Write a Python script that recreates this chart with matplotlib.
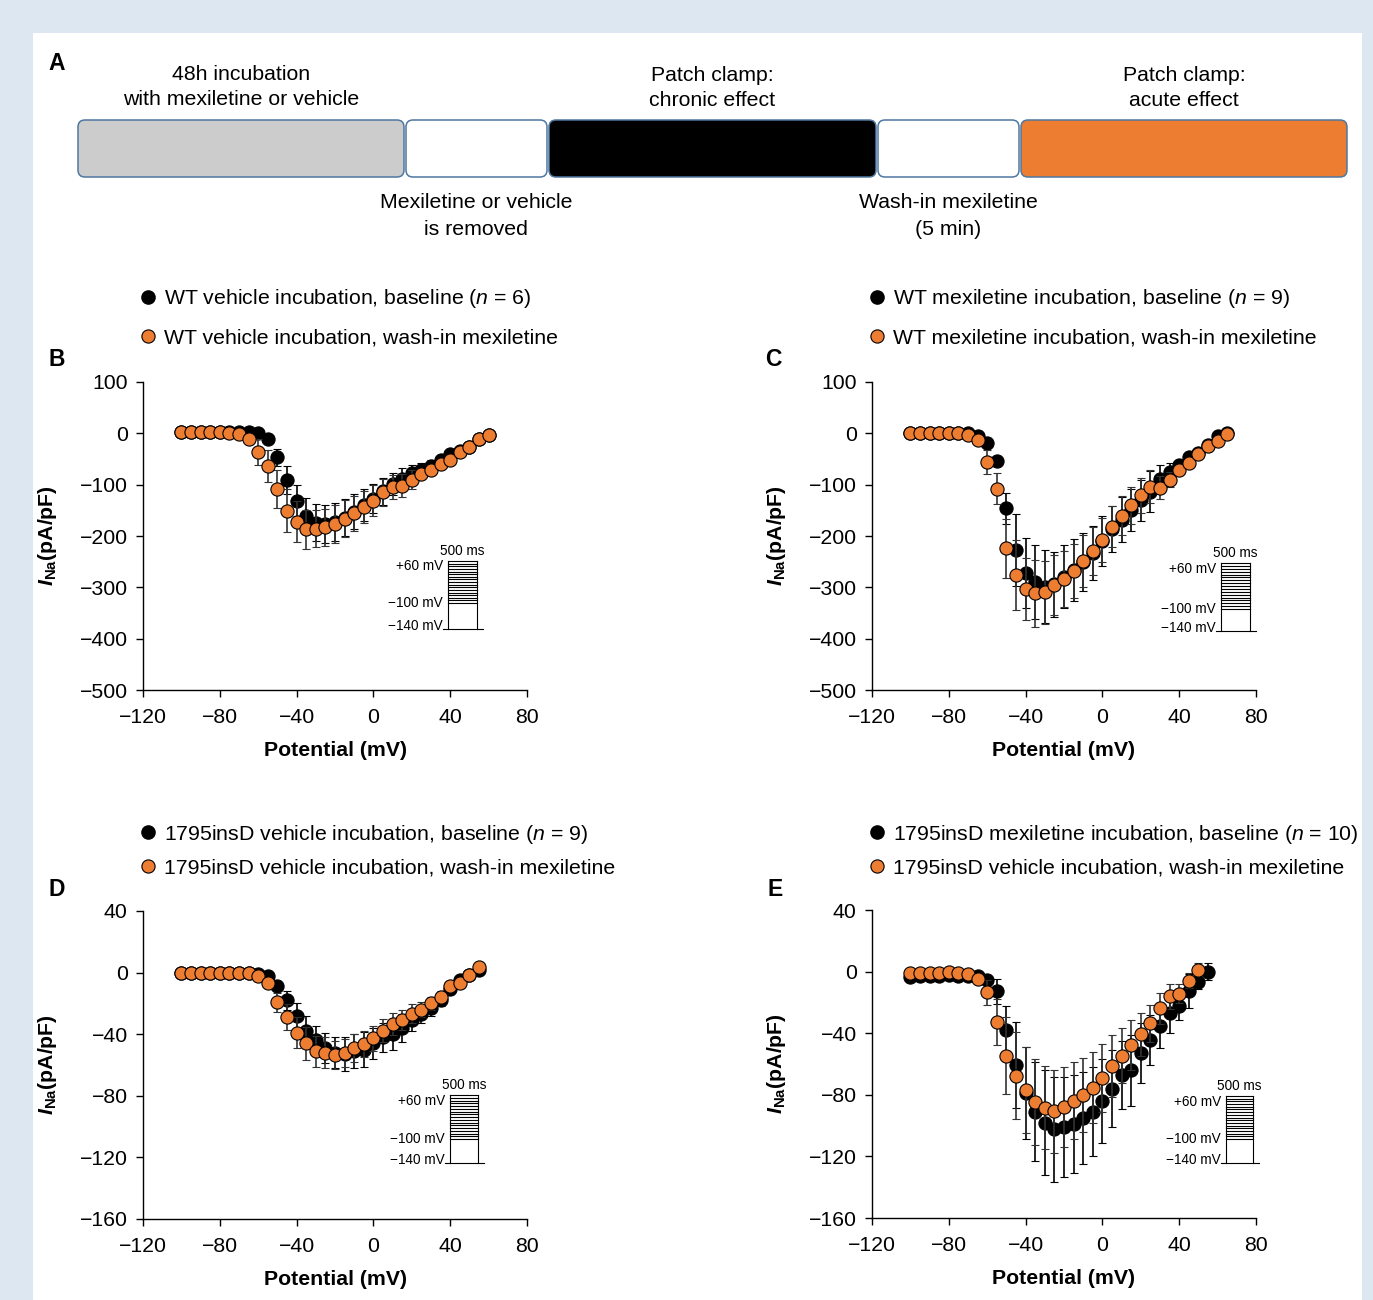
import numpy as np
import matplotlib.pyplot as plt
from matplotlib.lines import Line2D
from matplotlib.patches import FancyBboxPatch, Rectangle

plt.rcParams['font.family'] = ['Liberation Sans', 'DejaVu Sans']
plt.rcParams['mathtext.fontset'] = 'custom'
plt.rcParams['mathtext.rm'] = 'Liberation Sans'
plt.rcParams['mathtext.it'] = 'Liberation Sans:italic'
plt.rcParams['mathtext.bf'] = 'Liberation Sans:bold'
plt.rcParams['mathtext.bfit'] = 'Liberation Sans:italic:bold'

ORANGE = '#ED7D31'

# ---- data ----
# B: WT vehicle incubation
v_B = np.arange(-100, 61, 5)
B_base = [2, 2, 2, 2, 2, 3, 3, 3, 0, -11, -47, -91, -131, -161, -174, -177, -172,
          -164, -153, -140, -127, -113, -99, -88, -78, -72, -64, -52, -40, -34, -26, -12, -4]
B_base_err = [0, 0, 0, 0, 0, 1, 1, 2, 3, 5, 17, 28, 30, 35, 36, 37, 37, 36, 34, 31,
              29, 26, 22, 20, 17, 14, 12, 9, 8, 6, 5, 4, 4]
B_mex = [2, 2, 2, 2, 2, 1, -1, -12, -37, -64, -109, -151, -172, -187, -186, -183, -177,
         -166, -156, -143, -131, -115, -105, -102, -90, -79, -71, -60, -51, -36, -27, -12, -4]
B_mex_err = [0, 0, 0, 0, 0, 1, 2, 6, 25, 31, 37, 42, 40, 38, 36, 36, 37, 36, 34, 31,
             31, 26, 23, 22, 19, 10, 10, 9, 7, 5, 4, 4, 4]

# C: WT mexiletine incubation
v_C = np.arange(-100, 66, 5)
C_base = [1, 1, 1, 1, 1, 1, 0, -5, -19, -53, -146, -228, -272, -290, -299, -294, -279,
          -266, -251, -233, -210, -187, -168, -149, -130, -114, -89, -75, -62, -47, -38, -23, -6, 0]
C_base_err = [0, 0, 0, 0, 0, 0, 0, 3, 5, 8, 30, 70, 68, 72, 71, 63, 62, 60, 57, 53,
              49, 45, 44, 41, 40, 40, 28, 18, 10, 8, 6, 5, 5, 4]
C_mex = [1, 1, 1, 1, 1, 1, -3, -13, -56, -108, -224, -276, -303, -312, -310, -295, -284,
         -268, -249, -229, -207, -182, -161, -140, -121, -104, -106, -90, -71, -58, -40, -25, -14, -1]
C_mex_err = [0, 0, 0, 0, 0, 0, 2, 4, 24, 30, 58, 68, 60, 65, 62, 58, 55, 52, 50, 46,
             43, 40, 38, 36, 34, 32, 22, 15, 9, 7, 5, 4, 4, 4]

# D: 1795insD vehicle incubation
v_D = np.arange(-100, 56, 5)
D_base = [0, 0, 0, 0, 0, 0, 0, 0, -1, -2, -8.5, -18, -28, -38, -44, -49, -52, -53, -51,
          -50, -46, -42, -40, -36, -31, -27, -23, -18, -10.6, -5, -1.3, 1.7]
D_base_err = [0, 0, 0, 0, 0, 0, 0, 0, 1, 2, 3, 6, 8, 9.5, 9.5, 10, 10, 11, 11, 11.5,
              10, 9.5, 10, 9, 7, 6, 5, 3.5, 3.5, 3, 2, 2]
D_mex = [0, 0, 0, 0, 0, 0, 0, 0, -2.4, -6.5, -19.3, -29, -39, -46, -51, -52, -53.5, -52,
         -49, -46.5, -42.6, -37.8, -33.5, -30.6, -26.7, -24, -20, -15.6, -9, -6.5, -1.3, 3.5]
D_mex_err = [0, 0, 0, 0, 0, 0, 0, 0, 1, 2, 6.3, 8.5, 10, 10.5, 10, 10, 9, 9, 9, 8.5,
             8, 7.5, 7, 6.5, 6, 5, 4, 3.5, 3, 3, 2, 2]

# E: 1795insD mexiletine incubation
v_E = np.arange(-100, 56, 5)
E_base = [-3.5, -3, -3, -3, -2.5, -3, -2.6, -3, -5.6, -12.8, -37.6, -60.5, -78.7, -91, -98,
          -102.5, -101, -99, -95, -91, -84, -76, -67, -64, -53, -44.5, -35, -27, -22.5, -12.8, -6.5, 0]
E_base_err = [1, 1, 1, 1, 1, 1, 1, 1, 2, 8, 15, 28, 30, 32, 34, 34, 32.5, 32, 30, 29,
              27, 25, 22, 23, 19.5, 16, 14.5, 13, 9, 11, 5, 5.4]
v_E_mex = np.arange(-100, 51, 5)
E_mex = [-1, -1, -1, -1, -0.5, -1, -1.3, -4.5, -13.4, -32.9, -54.5, -67.5, -77, -84.7, -88.4,
         -90.6, -87.8, -84, -80.4, -75.5, -69, -61.4, -54.5, -47.6, -40.6, -33.7, -23.8, -16, -14.3, -5.8, 1.3]
E_mex_err = [1, 1, 1, 1, 1, 1, 1, 2, 8, 15, 25, 28, 28, 28, 27, 27, 26, 25, 24, 23,
             22, 20, 18, 16, 14, 12, 10, 8, 6, 5, 4]

legend_B = [r"WT vehicle incubation, baseline ($n$ = 6)",
            "WT vehicle incubation, wash-in mexiletine"]
legend_C = [r"WT mexiletine incubation, baseline ($n$ = 9)",
            "WT mexiletine incubation, wash-in mexiletine"]
legend_D = [r"1795insD vehicle incubation, baseline ($n$ = 9)",
            "1795insD vehicle incubation, wash-in mexiletine"]
legend_E = [r"1795insD mexiletine incubation, baseline ($n$ = 10)",
            "1795insD vehicle incubation, wash-in mexiletine"]

# protocol schematic: test steps and holding potential
step_levels = np.arange(-100, 61, 10)

# timeline (panel A)
tl_widths = [328, 143, 329, 143, 328]
tl_colors = ['#cccccc', 'white', 'black', 'white', ORANGE]

FS = 15.3
W, H = 1373, 1300
fig = plt.figure(figsize=(W / 100, H / 100), dpi=100)
fig.patch.set_facecolor('#dde7f1')
fig.add_artist(Rectangle((33 / W, 0), (1362 - 33) / W, 1 - 33 / H,
                         transform=fig.transFigure, facecolor='white',
                         edgecolor='none', zorder=-1))


def fx(x):
    return x / W


def fy(y):
    return 1 - y / H


def iv_panel(left, top, v0, y0, e0, v1, y1, e1, ylim, yticks, labels, leg_y, leg_gap):
    ax = fig.add_axes([fx(left), fy(top + 308), 384 / W, 308 / H])
    ax.errorbar(v0, y0, yerr=e0, fmt='o', ms=9.5, mfc='black', mec='black', mew=0.8,
                ecolor='black', elinewidth=1.2, capsize=3, capthick=1.2, zorder=3)
    ax.errorbar(v1, y1, yerr=e1, fmt='o', ms=9.5, mfc=ORANGE, mec='black', mew=0.8,
                ecolor='#333333', elinewidth=1.2, capsize=3, capthick=1.2, zorder=4)
    ax.set_xlim(-120, 80)
    ax.set_ylim(*ylim)
    ax.set_xticks(np.arange(-120, 81, 40))
    ax.set_yticks(yticks)
    for s in ['top', 'right']:
        ax.spines[s].set_visible(False)
    for s in ['left', 'bottom']:
        ax.spines[s].set_linewidth(1.0)
    ax.tick_params(labelsize=FS, length=5, width=1, pad=6)
    ax.tick_params(axis='x', pad=8)
    ax.set_xlabel("Potential (mV)", fontsize=FS, fontweight='bold')
    ax.xaxis.set_label_coords(0.5, -0.165)
    ax.set_ylabel(r"$\mathbfit{I}_{\mathbf{Na}}$(pA/pF)", fontsize=FS, fontweight='bold')
    ax.yaxis.set_label_coords(-0.22, 0.5)
    handles = [Line2D([], [], marker='o', ls='none', ms=9.5, mfc='black', mec='black'),
               Line2D([], [], marker='o', ls='none', ms=9.5, mfc=ORANGE, mec='black', mew=0.8)]
    ax.legend(handles, labels, loc='center left',
              bbox_to_anchor=(fx(left - 5.5), fy(leg_y)), bbox_transform=fig.transFigure,
              frameon=False, fontsize=FS, borderpad=0, borderaxespad=0,
              handlelength=1.0, handletextpad=0.27, labelspacing=leg_gap)
    return ax


axB = iv_panel(143, 382, v_B, B_base, B_base_err, v_B, B_mex, B_mex_err,
               (-500, 100), np.arange(-500, 101, 100), legend_B, 317.5, 0.88)
axC = iv_panel(872, 382, v_C, C_base, C_base_err, v_C, C_mex, C_mex_err,
               (-500, 100), np.arange(-500, 101, 100), legend_C, 317.5, 0.88)
axD = iv_panel(143, 911, v_D, D_base, D_base_err, v_D, D_mex, D_mex_err,
               (-160, 40), np.arange(-160, 41, 40), legend_D, 850, 0.6)
axE = iv_panel(872, 910, v_E, E_base, E_base_err, v_E_mex, E_mex, E_mex_err,
               (-160, 40), np.arange(-160, 41, 40), legend_E, 850, 0.6)

# overlay in pixel coordinates for panel A, letters and protocol icons
ov = fig.add_axes([0, 0, 1, 1])
ov.set_xlim(0, W)
ov.set_ylim(H, 0)
ov.axis('off')
ov.patch.set_alpha(0)

x0 = 77
for w, c in zip(tl_widths, tl_colors):
    ov.add_patch(FancyBboxPatch((x0 + 1, 120), w - 2, 57,
                                boxstyle='round,pad=0,rounding_size=7',
                                facecolor=c, edgecolor='#4f78a0', lw=1.1))
    x0 += w

top_font = dict(fontsize=FS, ha='center', va='center', linespacing=1.38)
bot_font = dict(fontsize=FS, ha='center', va='center', linespacing=1.5)
ov.text(241, 87, "48h incubation\nwith mexiletine or vehicle", **top_font)
ov.text(712, 88, "Patch clamp:\nchronic effect", **top_font)
ov.text(1184, 88, "Patch clamp:\nacute effect", **top_font)
ov.text(476, 216, "Mexiletine or vehicle\nis removed", **bot_font)
ov.text(948, 216, "Wash-in mexiletine\n(5 min)", **bot_font)

for letter, (lx, ly) in zip("ABCDE", [(57, 63), (57, 360), (773, 360), (57, 890), (775, 890)]):
    ov.text(lx, ly, letter, fontsize=16.5, fontweight='bold', ha='center', va='center')


def protocol(left, right, top, y100, base):
    ys = y100 + (step_levels - step_levels.min()) / (step_levels.max() - step_levels.min()) * (top - y100)
    for y in ys:
        ov.plot([left, right], [y, y], color='black', lw=0.8)
    ov.plot([left, left], [top, base], color='black', lw=0.8)
    ov.plot([right, right], [top, base], color='black', lw=0.8)
    ov.plot([left - 5, right + 6], [base, base], color='black', lw=0.8)
    f = dict(fontsize=9.8, ha='right', va='center')
    ov.text(left - 5, top + 0.13 * (y100 - top), "+60 mV", **f)
    ov.text(left - 5, y100, "\u2212100 mV", **f)
    ov.text(left - 5, base - 3, "\u2212140 mV", **f)
    ov.text((left + right) / 2, top - 10, "500 ms", fontsize=9.8, ha='center', va='center')


protocol(448, 477, 561, 603, 629)
protocol(1221, 1250, 563, 609, 631)
protocol(450, 478, 1095, 1139, 1163)
protocol(1226, 1253, 1096, 1139, 1163)

fig.savefig("out.png", dpi=100, facecolor=fig.get_facecolor())
